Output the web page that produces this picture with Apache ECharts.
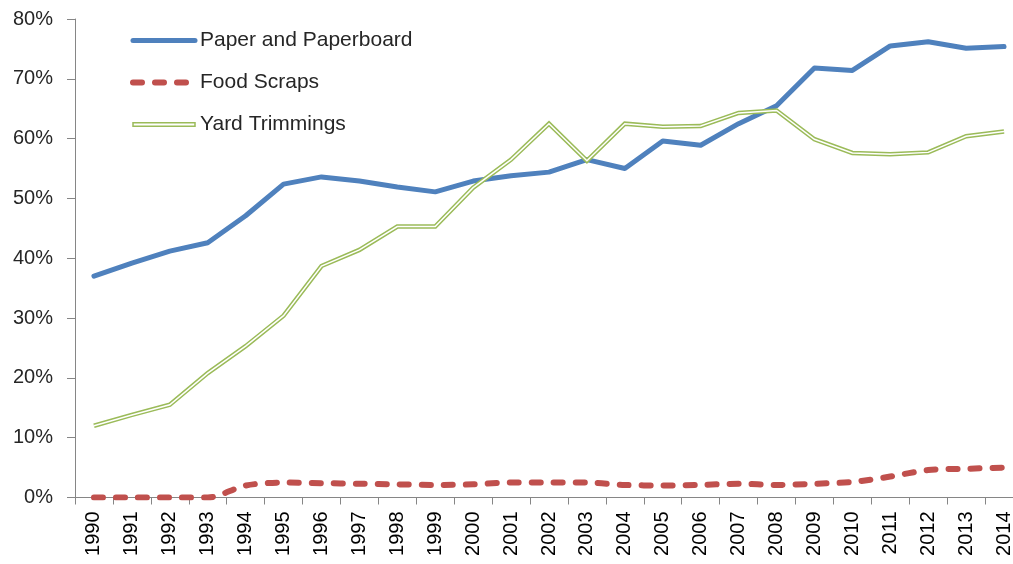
<!DOCTYPE html>
<html>
<head>
<meta charset="utf-8">
<script src="https://cdn.jsdelivr.net/npm/echarts@6/dist/echarts.min.js"></script>
<style>
  html, body { margin: 0; padding: 0; background: #fff; overflow: hidden; }
  /* the last category band runs a little past the right edge of the window */
  #chart { width: 1023px; height: 564px; }
</style>
</head>
<body>
<div id="chart"></div>
<script>
// Recovery rates by material, 1990–2014 (percent)
const years = ['1990','1991','1992','1993','1994','1995','1996','1997','1998','1999','2000','2001','2002','2003','2004','2005','2006','2007','2008','2009','2010','2011','2012','2013','2014'];

const paperAndPaperboard = [37.0, 39.2, 41.2, 42.6, 47.1, 52.4, 53.6, 52.9, 51.9, 51.1, 52.9, 53.8, 54.4, 56.5, 55.0, 59.6, 58.9, 62.5, 65.5, 71.8, 71.4, 75.5, 76.2, 75.1, 75.4];
const foodScraps = [0.0, 0.0, 0.0, 0.0, 2.0, 2.5, 2.4, 2.3, 2.2, 2.1, 2.2, 2.5, 2.5, 2.5, 2.1, 2.0, 2.1, 2.3, 2.1, 2.3, 2.6, 3.5, 4.6, 4.8, 5.0];
const yardTrimmings = [12.0, 13.8, 15.5, 20.8, 25.3, 30.4, 38.7, 41.4, 45.3, 45.3, 51.8, 56.5, 62.5, 56.3, 62.5, 62.0, 62.1, 64.3, 64.7, 59.9, 57.6, 57.4, 57.7, 60.4, 61.2];

const yTicks = { min: 0, max: 80, step: 10 };

const BLUE = '#4f81bd';
const RED = '#c0504d';
const GREEN = '#9bbb59';
const AXIS = '#868686';
const TEXT = '#262626';

const chart = echarts.init(document.getElementById('chart'), null, { renderer: 'canvas' });

const legendText = { fontFamily: 'Liberation Sans, Arial, sans-serif', fontSize: 21, color: TEXT, lineHeight: 21 };

chart.setOption({
  animation: false,
  backgroundColor: '#fff',
  grid: { left: 75, top: 19, right: 0, height: 478.5 },
  legend: {
    orient: 'vertical',
    left: 125,
    top: 25,
    itemWidth: 62,
    itemHeight: 20,
    itemGap: 21,
    symbolKeepAspect: true,
    textStyle: legendText,
    itemStyle: { opacity: 0 },
    data: [
      { name: 'Paper and Paperboard', lineStyle: { width: 5 } },
      { name: 'Food Scraps', lineStyle: { width: 6 } },
      {
        // hollow bar: a double stroke like the plotted line
        name: 'Yard Trimmings',
        icon: 'path://M0,0H62V3.5H0Z',
        itemStyle: { color: '#fff', borderColor: GREEN, borderWidth: 1.5, opacity: 1 }
      }
    ]
  },
  xAxis: {
    type: 'category',
    data: years,
    boundaryGap: true,
    axisLine: { lineStyle: { color: AXIS, width: 1 } },
    axisTick: { show: true, length: 7, lineStyle: { color: AXIS } },
    axisLabel: {
      rotate: 90,
      interval: 0,
      margin: 14,
      fontFamily: 'Liberation Sans, Arial, sans-serif',
      fontSize: 20,
      color: '#000'
    },
    splitLine: { show: false }
  },
  yAxis: {
    type: 'value',
    min: yTicks.min,
    max: yTicks.max,
    interval: yTicks.step,
    axisLine: { show: true, lineStyle: { color: AXIS, width: 1 } },
    axisTick: { show: true, length: 8, lineStyle: { color: AXIS } },
    axisLabel: {
      formatter: '{value}%',
      margin: 22,
      fontFamily: 'Liberation Sans, Arial, sans-serif',
      fontSize: 20,
      color: TEXT
    },
    splitLine: { show: false }
  },
  series: [
    {
      name: 'Paper and Paperboard',
      type: 'line',
      data: paperAndPaperboard,
      symbol: 'none',
      color: BLUE,
      lineStyle: { color: BLUE, width: 5, cap: 'round', join: 'round' }
    },
    {
      name: 'Food Scraps',
      type: 'line',
      data: foodScraps,
      symbol: 'none',
      smooth: 0.3,
      color: RED,
      lineStyle: { color: RED, width: 6, type: [9, 13], cap: 'round', join: 'round' }
    },
    {
      name: 'Yard Trimmings',
      type: 'line',
      data: yardTrimmings,
      symbol: 'none',
      color: GREEN,
      lineStyle: { color: GREEN, width: 4.5, join: 'miter' }
    },
    {
      // white core that turns the green stroke into a double line
      name: 'Yard Trimmings core',
      type: 'line',
      data: yardTrimmings,
      symbol: 'none',
      color: '#fff',
      lineStyle: { color: '#fff', width: 1.5, join: 'miter' }
    }
  ]
});
</script>
</body>
</html>
